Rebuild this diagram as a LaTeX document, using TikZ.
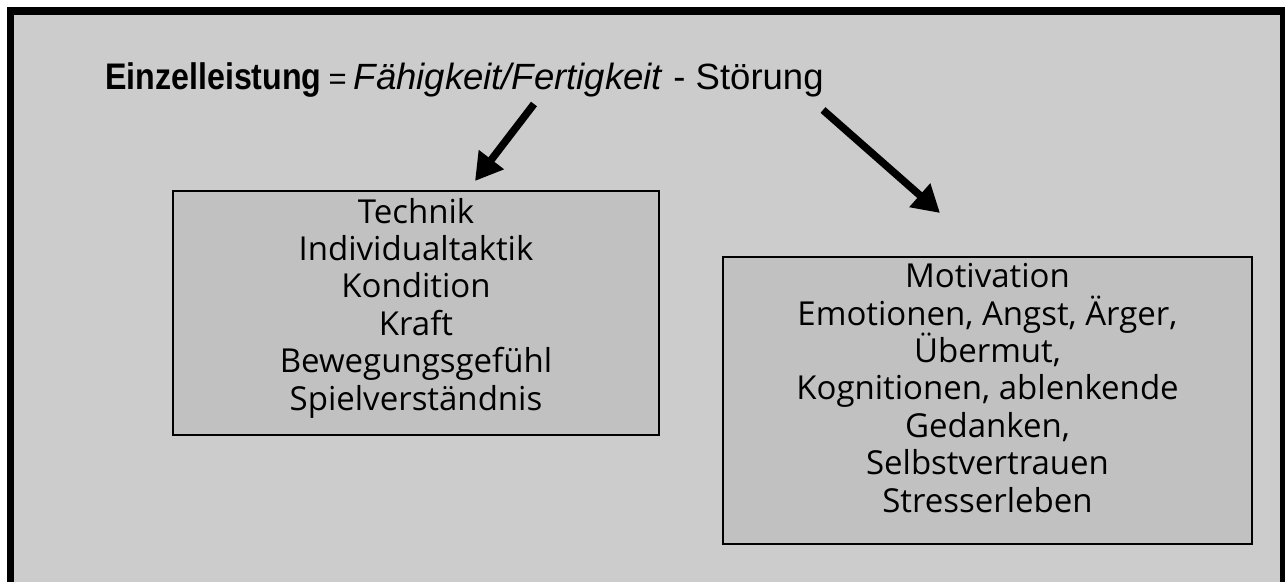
\documentclass[tikz,border=0pt]{standalone}
\usepackage{fontspec}
\setmainfont{Liberation Sans}
\newfontfamily\boxfont{Open Sans}
\usetikzlibrary{arrows.meta}
\definecolor{bggray}{RGB}{204,204,204}
\definecolor{boxgray}{RGB}{193,193,193}
\tikzset{
  panel/.style={draw=black, line width=1.3pt, fill=boxgray, inner sep=0pt},
  panetext/.style={font=\boxfont\fontsize{33}{37.4}\selectfont, align=center, inner sep=0pt},
  bigarrow/.style={line width=7.5pt, -{Triangle[length=27pt,width=30pt]}},
}
\begin{document}
\begin{tikzpicture}[x=1pt,y=-1pt]
\useasboundingbox (0,0) rectangle (1285,582);
\fill[black] (7,7) rectangle (1285,582);
\fill[bggray] (14,15) rectangle (1280,582);
% title
\node[anchor=base west, inner sep=0pt] (title) at (105,89)
  {\scalebox{0.87}[1]{\bfseries\fontsize{37}{42}\selectfont Einzelleistung}\fontsize{36.5}{42}\selectfont\hspace{7pt}{\fontsize{31}{34}\selectfont=}\hspace{7pt}\textit{Fähigkeit/Fertigkeit} - Störung};
% boxes
\node[panel, minimum width=486pt, minimum height=244pt] (lbox) at (416,313) {};
\node[panetext] (ltext) at (416,308)
  {Technik\\Individualtaktik\\Kondition\\Kraft\\Bewegungsgefühl\\Spielverständnis};
\node[panel, minimum width=529pt, minimum height=287pt] (rbox) at (987.5,400.5) {};
\node[panetext] (rtext) at (987.5,388)
  {Motivation\\Emotionen, Angst, Ärger,\\Übermut,\\Kognitionen, ablenkende\\Gedanken,\\Selbstvertrauen\\Stresserleben};
% arrows
\coordinate (a1s) at (534,104);
\coordinate (a1e) at (475,181);
\coordinate (a2s) at (823,110);
\coordinate (a2e) at (940,213);
\draw[bigarrow] (a1s) -- (a1e);
\draw[bigarrow] (a2s) -- (a2e);
\end{tikzpicture}
\end{document}
